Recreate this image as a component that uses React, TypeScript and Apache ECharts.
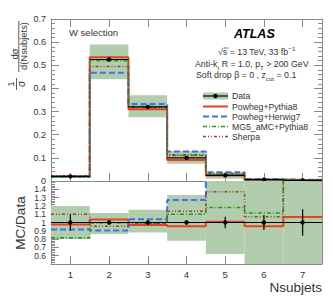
import React, { useEffect, useRef } from "react";
import * as echarts from "echarts";

// ---- data ----
const categories = ["1", "2", "3", "4", "5", "6", "7"];
const binCenters = [1, 2, 3, 4, 5, 6, 7];

const dataValues = [0.02, 0.525, 0.32, 0.1, 0.024, 0.006, 0.003];
const dataErrors = [0.001, 0.005, 0.003, 0.001, 0.0015, 0.0006, 0.0005];
const bandLow = [0.016, 0.44, 0.275, 0.074, 0.01, 0.002, 0.0];
const bandHigh = [0.024, 0.59, 0.37, 0.13, 0.036, 0.01, 0.008];

const powhegPythia = [0.0195, 0.535, 0.31, 0.091, 0.024, 0.0057, 0.0032];
const powhegHerwig = [0.018, 0.468, 0.333, 0.127, 0.038, 0.009, 0.005];
const mg5Pythia = [0.016, 0.52, 0.322, 0.11, 0.028, 0.0067, 0.0048];
const sherpa = [0.022, 0.495, 0.318, 0.113, 0.033, 0.0064, 0.0047];

const ratioDataErrors = [0.1, 0.02, 0.015, 0.02, 0.07, 0.09, 0.16];
const ratioBandLow = [0.8, 0.86, 0.88, 0.78, 0.62, 0.5, 0.5];
const ratioBandHigh = [1.2, 1.115, 1.155, 1.33, 1.5, 1.5, 1.5];

const ratioPowhegPythia = [0.975, 1.035, 0.97, 0.955, 1.01, 0.955, 1.065];
const ratioPowhegHerwig = [0.915, 0.905, 1.04, 1.27, 1.6, 1.6, 1.6];
const ratioMg5Pythia = [0.815, 0.995, 0.99, 1.1, 1.18, 1.115, 1.6];
const ratioSherpa = [1.1, 0.955, 0.99, 1.135, 1.37, 1.07, 1.6];

const topRange = [0, 0.7];
const ratioRange = [0.5, 1.5];

// ---- styles ----
const FONT = "Liberation Sans";
const BAND = "#b1cdae";
const RED = "#e9401f";
const BLUE = "#3f72ee";
const GREEN = "#1f9a24";
const BROWN = "#8a4a2a";
const AXIS = "#8a8a8a";
const TEXT = "#333";

const mcStyles = [
  { name: "Powheg+Pythia8", color: RED, width: 2, dash: "solid" as any },
  { name: "Powheg+Herwig7", color: BLUE, width: 2, dash: [6, 3] as any },
  { name: "MG5_aMC+Pythia8", color: GREEN, width: 1.6, dash: [4, 2, 1, 2] as any },
  { name: "Sherpa", color: BROWN, width: 1.6, dash: [3, 2, 1, 2, 1, 2] as any },
];

function stepPoints(vals: number[]) {
  const pts: number[][] = [];
  vals.forEach((v, i) => {
    pts.push([binCenters[i] - 0.5, v]);
    pts.push([binCenters[i] + 0.5, v]);
  });
  return pts;
}

function bandSeries(xi: number, yi: number, lo: number[], hi: number[], range: number[]) {
  return {
    type: "custom",
    xAxisIndex: xi,
    yAxisIndex: yi,
    z: 1,
    silent: true,
    clip: true,
    data: binCenters.map((c, i) => [c, lo[i], hi[i]]),
    renderItem: (params: any, api: any) => {
      const i = params.dataIndex;
      const x = binCenters[i];
      const l = Math.max(lo[i], range[0]);
      const h = Math.min(hi[i], range[1]);
      const p1 = api.coord([x - 0.5, h]);
      const p2 = api.coord([x + 0.5, l]);
      return {
        type: "rect",
        shape: { x: p1[0], y: p1[1], width: p2[0] - p1[0], height: p2[1] - p1[1] },
        style: { fill: BAND },
      };
    },
  };
}

function dataSeries(xi: number, yi: number, vals: number[], errs: number[], range: number[]) {
  return {
    type: "custom",
    xAxisIndex: xi,
    yAxisIndex: yi,
    z: 5,
    silent: true,
    clip: true,
    data: binCenters.map((c, i) => [c, vals[i]]),
    renderItem: (params: any, api: any) => {
      const i = params.dataIndex;
      const x = binCenters[i];
      const y = vals[i];
      const a = api.coord([x - 0.5, y]);
      const b = api.coord([x + 0.5, y]);
      const lo = api.coord([x, Math.max(y - errs[i], range[0])]);
      const hi = api.coord([x, Math.min(y + errs[i], range[1])]);
      const c = api.coord([x, y]);
      return {
        type: "group",
        children: [
          { type: "line", shape: { x1: a[0], y1: a[1], x2: b[0], y2: b[1] }, style: { stroke: "#000", lineWidth: 1.2 } },
          { type: "line", shape: { x1: lo[0], y1: lo[1], x2: hi[0], y2: hi[1] }, style: { stroke: "#000", lineWidth: 1.2 } },
          { type: "circle", shape: { cx: c[0], cy: c[1], r: 2.2 }, style: { fill: "#000" } },
        ],
      };
    },
  };
}

function lineSeries(xi: number, yi: number, vals: number[], s: any) {
  return {
    type: "line",
    name: s.name,
    xAxisIndex: xi,
    yAxisIndex: yi,
    z: 3,
    silent: true,
    showSymbol: false,
    clip: true,
    data: stepPoints(vals),
    lineStyle: { color: s.color, width: s.width, type: s.dash },
  };
}

const catAxis = (gridIndex: number, position: string, showLabel: boolean) => ({
  type: "category",
  gridIndex,
  position,
  data: categories,
  boundaryGap: true,
  axisLine: { show: true, lineStyle: { color: AXIS, width: 1 } },
  axisTick: { show: true, inside: true, alignWithLabel: true, length: 8, lineStyle: { color: AXIS } },
  axisLabel: { show: showLabel, fontFamily: FONT, fontSize: 9.5, color: TEXT, margin: 5 },
  splitLine: { show: false },
});

const valYAxis = (gridIndex: number, position: string, range: number[], showLabel: boolean, fs: number, fmt: (v: number) => string) => ({
  type: "value",
  gridIndex,
  position,
  min: range[0],
  max: range[1],
  interval: 0.1,
  axisLine: { show: true, lineStyle: { color: AXIS, width: 1 } },
  axisTick: { show: true, inside: true, length: 8, lineStyle: { color: AXIS } },
  minorTick: { show: true, splitNumber: 5, length: 4, lineStyle: { color: AXIS } },
  axisLabel: { show: showLabel, fontFamily: FONT, fontSize: fs, color: TEXT, margin: 5, formatter: fmt, lineHeight: 8 },
  splitLine: { show: false },
  minorSplitLine: { show: false },
});

const normal = (fs: number) => ({ fontFamily: FONT, fontSize: fs, fill: TEXT, lineHeight: 13, verticalAlign: "middle" });
const subS = (fs: number) => ({ fontFamily: FONT, fontSize: fs, fill: TEXT, lineHeight: 8, verticalAlign: "bottom" });
const supS = (fs: number) => ({ fontFamily: FONT, fontSize: fs, fill: TEXT, lineHeight: 8, verticalAlign: "top" });

function richText(x: number, y: number, text: string, fs = 8.8) {
  return {
    type: "text",
    x,
    y,
    style: {
      text,
      textVerticalAlign: "middle",
      verticalAlign: "middle",
      rich: { n: normal(fs), s: subS(fs * 0.7), p: supS(fs * 0.7) },
    },
  };
}

const rotText = (x: number, y: number, text: string, fs: number) => ({
  type: "text",
  x,
  y,
  rotation: Math.PI / 2,
  style: { text, fontFamily: FONT, fontSize: fs, fill: TEXT, textAlign: "center", align: "center", textVerticalAlign: "middle", verticalAlign: "middle" },
});

export default function App() {
  const ref = useRef<HTMLDivElement>(null);
  useEffect(() => {
    if (!ref.current) return;
    const chart = echarts.init(ref.current, null, { renderer: "svg" });
    const legendRows = [
      { label: "Data", y: 96 },
      { label: mcStyles[0].name, y: 106.5 },
      { label: mcStyles[1].name, y: 116.5 },
      { label: mcStyles[2].name, y: 126.5 },
      { label: mcStyles[3].name, y: 136.5 },
    ];
    const lx1 = 203;
    const lx2 = 228;
    const legendGraphics: any[] = [];
    legendRows.forEach((r, i) => {
      if (i === 0) {
        legendGraphics.push({ type: "rect", shape: { x: lx1, y: r.y - 3.5, width: lx2 - lx1, height: 7 }, style: { fill: BAND } });
        legendGraphics.push({ type: "line", shape: { x1: lx1, y1: r.y, x2: lx2, y2: r.y }, style: { stroke: "#000", lineWidth: 1.2 } });
        legendGraphics.push({ type: "circle", shape: { cx: (lx1 + lx2) / 2, cy: r.y, r: 2.2 }, style: { fill: "#000" } });
      } else {
        const s = mcStyles[i - 1];
        legendGraphics.push({
          type: "line",
          shape: { x1: lx1, y1: r.y, x2: lx2, y2: r.y },
          style: { stroke: s.color, lineWidth: s.width, lineDash: s.dash === "solid" ? null : s.dash },
        });
      }
      legendGraphics.push({
        type: "text",
        x: 232,
        y: r.y,
        style: { text: r.label, fontFamily: FONT, fontSize: 8.7, fill: TEXT, textVerticalAlign: "middle", verticalAlign: "middle" },
      });
    });

    const option: any = {
      animation: false,
      grid: [
        { left: 51, top: 19, width: 271, height: 162 },
        { left: 51, top: 181, width: 271, height: 83 },
      ],
      xAxis: [
        { type: "value", gridIndex: 0, min: 0.5, max: 7.5, show: false },
        { type: "value", gridIndex: 1, min: 0.5, max: 7.5, show: false },
        catAxis(0, "bottom", false),
        catAxis(0, "top", false),
        catAxis(1, "bottom", true),
      ],
      yAxis: [
        valYAxis(0, "left", topRange, true, 9, (v: number) => (Math.abs(v) < 1e-9 ? "0" : v.toFixed(1))),
        valYAxis(0, "right", topRange, false, 9, () => ""),
        valYAxis(1, "left", ratioRange, true, 8.5, (v: number) =>
          v > 1.45 ? "" : Math.abs(v - 1) < 1e-6 ? "1" : v.toFixed(1)
        ),
        valYAxis(1, "right", ratioRange, false, 8.5, () => ""),
      ],
      series: [
        bandSeries(0, 0, bandLow, bandHigh, topRange),
        lineSeries(0, 0, powhegPythia, mcStyles[0]),
        lineSeries(0, 0, powhegHerwig, mcStyles[1]),
        lineSeries(0, 0, mg5Pythia, mcStyles[2]),
        lineSeries(0, 0, sherpa, mcStyles[3]),
        dataSeries(0, 0, dataValues, dataErrors, topRange),
        bandSeries(1, 2, ratioBandLow, ratioBandHigh, ratioRange),
        dataSeries(1, 2, binCenters.map(() => 1), ratioDataErrors, ratioRange),
        lineSeries(1, 2, ratioPowhegPythia, mcStyles[0]),
        lineSeries(1, 2, ratioPowhegHerwig, mcStyles[1]),
        lineSeries(1, 2, ratioMg5Pythia, mcStyles[2]),
        lineSeries(1, 2, ratioSherpa, mcStyles[3]),
      ],
      graphic: [
        rotText(11, 84, "1", 9),
        { type: "line", shape: { x1: 16.5, y1: 78, x2: 16.5, y2: 90 }, style: { stroke: TEXT, lineWidth: 0.8 } },
        rotText(21.5, 84, "σ", 10),
        rotText(14, 54, "dσ", 9.5),
        { type: "line", shape: { x1: 18.8, y1: 21, x2: 18.8, y2: 72 }, style: { stroke: TEXT, lineWidth: 0.8 } },
        rotText(23.5, 46, "d(Nsubjets)", 9.4),
        rotText(20, 223, "MC/Data", 13.5),
        { type: "text", x: 322, y: 287, style: { text: "Nsubjets", fontFamily: FONT, fontSize: 13.5, fill: TEXT, textAlign: "right", align: "right", textVerticalAlign: "middle", verticalAlign: "middle" } },
        { type: "text", x: 69, y: 32, style: { text: "W selection", fontFamily: FONT, fontSize: 9.5, fill: TEXT, textVerticalAlign: "middle", verticalAlign: "middle" } },
        { type: "text", x: 234, y: 34, style: { text: "ATLAS", fontFamily: FONT, fontSize: 12.5, fontWeight: "bold", fontStyle: "italic", fill: "#000", textVerticalAlign: "middle", verticalAlign: "middle" } },
        richText(218, 52, "{n|√s = 13 TeV, 33 fb}{p|−1}"),
        { type: "line", shape: { x1: 223.5, y1: 48, x2: 228.5, y2: 48 }, style: { stroke: TEXT, lineWidth: 0.7 } },
        richText(195, 63.5, "{n|Anti-k}{s|t}{n| R = 1.0, p}{s|T}{n| > 200 GeV}"),
        richText(196, 75, "{n|Soft drop β = 0 , z}{s|cut}{n| = 0.1}"),
        ...legendGraphics,
      ],
    };
    chart.setOption(option);
    return () => chart.dispose();
  }, []);
  return <div ref={ref} style={{ width: 333, height: 297, position: "absolute", left: 0, top: 0 }} />;
}
